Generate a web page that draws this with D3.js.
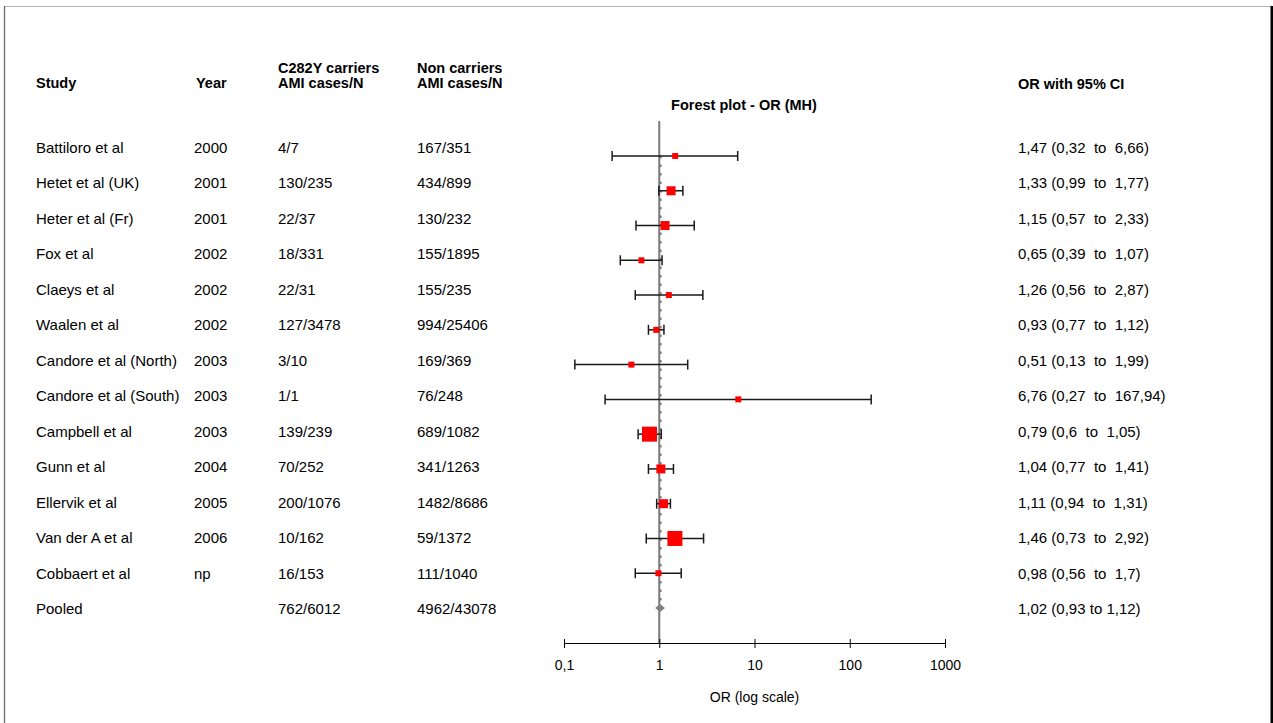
<!DOCTYPE html>
<html>
<head>
<meta charset="utf-8">
<script src="https://cdn.jsdelivr.net/npm/d3@7/dist/d3.min.js"></script>
<style>
  html, body { margin: 0; padding: 0; background: #fff; }
  svg { display: block; }
  text { font-family: "Liberation Sans", Arial, Helvetica, sans-serif; fill: #000; }
</style>
</head>
<body>
<svg id="chart" width="1273" height="723"></svg>
<script>
// ---------- DATA ----------
const studies = ["Battiloro et al", "Hetet et al (UK)", "Heter et al (Fr)", "Fox et al", "Claeys et al",
  "Waalen et al", "Candore et al (North)", "Candore et al (South)", "Campbell et al", "Gunn et al",
  "Ellervik et al", "Van der A et al", "Cobbaert et al"];
const years = ["2000", "2001", "2001", "2002", "2002", "2002", "2003", "2003", "2003", "2004", "2005", "2006", "np"];
const carriers = ["4/7", "130/235", "22/37", "18/331", "22/31", "127/3478", "3/10", "1/1", "139/239", "70/252", "200/1076", "10/162", "16/153"];
const nonCarriers = ["167/351", "434/899", "130/232", "155/1895", "155/235", "994/25406", "169/369", "76/248", "689/1082", "341/1263", "1482/8686", "59/1372", "111/1040"];
const orValues = [1.47, 1.33, 1.15, 0.65, 1.26, 0.93, 0.51, 6.76, 0.79, 1.04, 1.11, 1.46, 0.98];
const ciLow = [0.32, 0.99, 0.57, 0.39, 0.56, 0.77, 0.13, 0.27, 0.6, 0.77, 0.94, 0.73, 0.56];
const ciHigh = [6.66, 1.77, 2.33, 1.07, 2.87, 1.12, 1.99, 167.94, 1.05, 1.41, 1.31, 2.92, 1.7];
const weights = [1, 2.25, 2.25, 1, 1, 1, 1, 1, 6.25, 2.25, 2.25, 6.25, 1]; // relative box weight (estimated)
const pooled = { label: "Pooled", carriers: "762/6012", nonCarriers: "4962/43078", or: 1.02, lo: 0.93, hi: 1.12 };
const axisTicks = [0.1, 1, 10, 100, 1000];
const tickLabels = ["0,1", "1", "10", "100", "1000"];

// ---------- SETUP ----------
const svg = d3.select("#chart");
const fmt = v => String(v).replace(".", ",");
const nRows = studies.length + 1;

const x = d3.scaleLog().domain([0.1, 1000]).range([564, 945]);
const yMark = d3.scaleLinear().domain([0, nRows - 1]).range([156, 608]);
const yText = d3.scaleLinear().domain([0, nRows - 1]).range([153, 614]);
const boxSize = d3.scaleSqrt().domain([0, 6.25]).range([0, 15]);

// frame
svg.append("line").attr("x1", 4).attr("x2", 1271).attr("y1", 6.5).attr("y2", 6.5)
  .attr("stroke", "#b4b4b4").attr("stroke-width", 1);
svg.append("line").attr("x1", 4.5).attr("x2", 4.5).attr("y1", 6).attr("y2", 723)
  .attr("stroke", "#6e6e6e").attr("stroke-width", 1.3);
svg.append("rect").attr("x", 1270.5).attr("y", 6).attr("width", 2.5).attr("height", 717).attr("fill", "#000");

// headers
const hdr = svg.append("g").attr("font-weight", "bold").attr("font-size", "14.5px");
hdr.append("text").attr("x", 36).attr("y", 88).text("Study");
hdr.append("text").attr("x", 196).attr("y", 88).text("Year");
hdr.append("text").attr("x", 278).attr("y", 73).text("C282Y carriers");
hdr.append("text").attr("x", 278).attr("y", 88).text("AMI cases/N");
hdr.append("text").attr("x", 417).attr("y", 73).text("Non carriers");
hdr.append("text").attr("x", 417).attr("y", 88).text("AMI cases/N");
hdr.append("text").attr("x", 1018).attr("y", 89).text("OR with 95% CI");
hdr.append("text").attr("x", 744).attr("y", 110).attr("text-anchor", "middle").text("Forest plot - OR (MH)");

// table rows
const rows = studies.map((s, i) => ({
  study: s, year: years[i], c: carriers[i], n: nonCarriers[i],
  or: orValues[i], lo: ciLow[i], hi: ciHigh[i], w: weights[i], i: i,
  label: fmt(orValues[i]) + " (" + fmt(ciLow[i]) + "  to  " + fmt(ciHigh[i]) + ")"
}));
const tbl = svg.append("g").attr("font-size", "15px");
const cols = [["study", 36], ["year", 194], ["c", 278], ["n", 417], ["label", 1018]];
cols.forEach(([k, cx]) => {
  tbl.selectAll(null).data(rows).join("text")
    .attr("x", cx).attr("y", d => yText(d.i))
    .attr("xml:space", "preserve").style("white-space", "pre")
    .text(d => d[k]);
});
const pi = nRows - 1;
tbl.append("text").attr("x", 36).attr("y", yText(pi)).text(pooled.label);
tbl.append("text").attr("x", 278).attr("y", yText(pi)).text(pooled.carriers);
tbl.append("text").attr("x", 417).attr("y", yText(pi)).text(pooled.nonCarriers);
tbl.append("text").attr("x", 1018).attr("y", yText(pi))
  .text(fmt(pooled.or) + " (" + fmt(pooled.lo) + " to " + fmt(pooled.hi) + ")");

// reference line at OR = 1
svg.append("line").attr("x1", x(1)).attr("x2", x(1)).attr("y1", 121).attr("y2", 643)
  .attr("stroke", "#7a7a7a").attr("stroke-width", 2);
// pooled estimate dotted line
svg.append("line").attr("x1", x(pooled.or) + 0.5).attr("x2", x(pooled.or) + 0.5)
  .attr("y1", yMark(0)).attr("y2", yMark(pi))
  .attr("stroke", "#7a7a7a").attr("stroke-width", 2).attr("stroke-dasharray", "2.5,6");

// error bars
const eb = svg.append("g").attr("stroke", "#1a1a1a").attr("stroke-width", 1.5);
eb.selectAll(".ci").data(rows).join("line")
  .attr("x1", d => x(d.lo)).attr("x2", d => x(d.hi))
  .attr("y1", d => yMark(d.i)).attr("y2", d => yMark(d.i));
eb.selectAll(".capL").data(rows).join("line")
  .attr("x1", d => x(d.lo)).attr("x2", d => x(d.lo))
  .attr("y1", d => yMark(d.i) - 5).attr("y2", d => yMark(d.i) + 5);
eb.selectAll(".capR").data(rows).join("line")
  .attr("x1", d => x(d.hi)).attr("x2", d => x(d.hi))
  .attr("y1", d => yMark(d.i) - 5).attr("y2", d => yMark(d.i) + 5);

// boxes
svg.append("g").selectAll("rect").data(rows).join("rect")
  .attr("x", d => x(d.or) - boxSize(d.w) / 2)
  .attr("y", d => yMark(d.i) - boxSize(d.w) / 2)
  .attr("width", d => boxSize(d.w)).attr("height", d => boxSize(d.w))
  .attr("fill", "#ff0000");

// pooled diamond
const py = yMark(pi);
svg.append("path")
  .attr("d", `M${x(pooled.lo) - 1},${py} L${x(pooled.or)},${py - 4} L${x(pooled.hi) + 1},${py} L${x(pooled.or)},${py + 4} Z`)
  .attr("fill", "#808080");

// x axis
const axisY = 643;
const ax = svg.append("g").attr("transform", `translate(0,${axisY})`)
  .call(d3.axisBottom(x).tickValues(axisTicks).tickSize(0).tickFormat((d, i) => tickLabels[i]));
ax.select(".domain").attr("stroke", "#000").attr("stroke-width", 1);
ax.selectAll(".tick line").remove();
ax.selectAll(".tick").append("line").attr("y1", -4).attr("y2", 5).attr("stroke", "#000");
ax.selectAll(".tick text").attr("y", 27).attr("dy", 0)
  .attr("font-size", "14px").attr("fill", "#000")
  .style("font-family", "'Liberation Sans', Arial, sans-serif");
svg.append("text").attr("x", x(10)).attr("y", 702).attr("text-anchor", "middle")
  .attr("font-size", "14px").text("OR (log scale)");
</script>
</body>
</html>
